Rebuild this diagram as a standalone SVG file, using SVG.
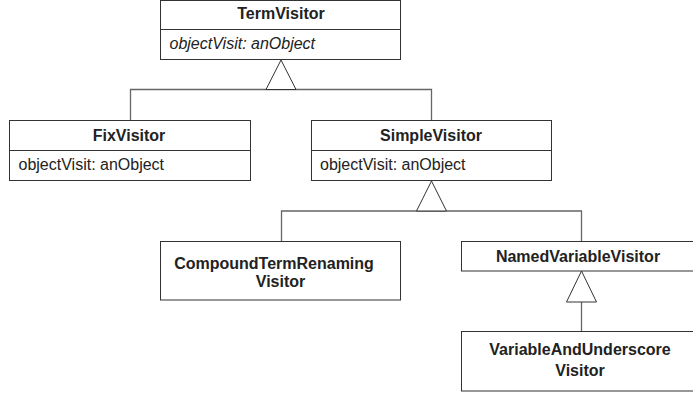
<svg xmlns="http://www.w3.org/2000/svg" width="693" height="394" viewBox="0 0 693 394">
<style>
.box{fill:#fff;stroke:#333;stroke-width:1}
.div{stroke:#333;stroke-width:1}
.con{fill:none;stroke:#666;stroke-width:1.3}
.tri{fill:#fff;stroke:#333;stroke-width:1}
.t{font-family:"Liberation Sans",Arial,sans-serif;font-size:16px;fill:#222}
.b{font-weight:bold;text-anchor:middle}
.i{font-style:italic}
</style>
<rect width="693" height="394" fill="#fff"/>
<g id="connectors">
<path class="con" d="M130.5,120 V89.5 H431.5 V120"/>
<path class="con" d="M281.5,241 V211 H581.5 V241"/>
<path class="con" d="M581.5,302 V331"/>
<polygon class="tri" points="281,60 266,89.5 296,89.5"/>
<polygon class="tri" points="431.5,181 416.5,211 446.5,211"/>
<polygon class="tri" points="581.5,271 566.5,302 596.5,302"/>
</g>
<g id="TermVisitor">
<rect class="box" x="160.5" y="0.5" width="240" height="59"/>
<line class="div" x1="160.5" y1="29.5" x2="400.5" y2="29.5"/>
<text class="t b" x="281" y="19">TermVisitor</text>
<text class="t i" x="169.5" y="49">objectVisit: anObject</text>
</g>
<g id="FixVisitor">
<rect class="box" x="9.5" y="120.5" width="241" height="60"/>
<line class="div" x1="9.5" y1="150.5" x2="250.5" y2="150.5"/>
<text class="t b" x="129" y="141">FixVisitor</text>
<text class="t" x="18.5" y="170">objectVisit: anObject</text>
</g>
<g id="SimpleVisitor">
<rect class="box" x="311.5" y="120.5" width="240" height="60"/>
<line class="div" x1="311.5" y1="150.5" x2="551.5" y2="150.5"/>
<text class="t b" x="431" y="141">SimpleVisitor</text>
<text class="t" x="320" y="170">objectVisit: anObject</text>
</g>
<g id="CompoundTermRenamingVisitor">
<rect class="box" x="160.5" y="241.5" width="240" height="58.5"/>
<text class="t b" x="274" y="269">CompoundTermRenaming</text>
<text class="t b" x="280.5" y="287">Visitor</text>
</g>
<g id="NamedVariableVisitor">
<rect class="box" x="461.5" y="241.5" width="240" height="29.5"/>
<text class="t b" x="578" y="262">NamedVariableVisitor</text>
</g>
<g id="VariableAndUnderscoreVisitor">
<rect class="box" x="461.5" y="331.5" width="240" height="59.5"/>
<text class="t b" x="580" y="355">VariableAndUnderscore</text>
<text class="t b" x="580" y="376">Visitor</text>
</g>
</svg>
